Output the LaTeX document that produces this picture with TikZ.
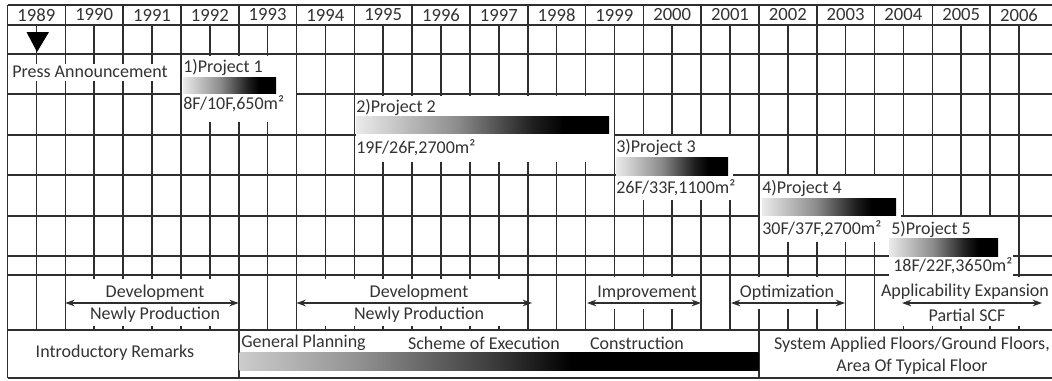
\documentclass[tikz,border=0pt]{standalone}
\usepackage{fontspec}
\setmainfont{Carlito}
\usetikzlibrary{arrows.meta}
\definecolor{chartink}{HTML}{333333}
\definecolor{chartline}{HTML}{2E2E2E}
\pgfdeclarehorizontalshading{barshade}{100bp}{color(0bp)=(black!8); color(25bp)=(black!8); color(45bp)=(black!45); color(60bp)=(black!88); color(66bp)=(black); color(100bp)=(black)}
\pgfdeclarehorizontalshading{bandshade}{100bp}{color(0bp)=(black!20); color(25bp)=(black!20); color(36bp)=(black!42); color(50bp)=(black!78); color(57bp)=(black); color(100bp)=(black)}
\tikzset{gridline/.style={draw=chartline, line width=1.2pt},
  blankbox/.style={fill=white},
  projbar/.style={shading=barshade},
  projlabel/.style={anchor=west, inner sep=0pt, text=chartink},
  phaselabel/.style={inner sep=0pt, text=chartink},
  phasearrow/.style={{Stealth[length=7pt,width=5pt]}-{Stealth[length=7pt,width=5pt]}, line width=1pt, chartline},
  yearlabel/.style={inner sep=0pt, text=chartink, font=\fontsize{14}{16}\selectfont},
  chart/.style={x=0.75pt, y=-0.75pt, font=\fontsize{13.5}{16.5}\selectfont}}

\begin{document}
\begin{tikzpicture}[chart]
  \useasboundingbox (0,0) rectangle (1052,380);
  \clip (0,0) rectangle (1052,380);
  % grid of half years
  \foreach \j in {1,...,35}
    \draw[gridline] ({7.5+28.9*\j},25) -- ({7.5+28.9*\j},330);
  \foreach \k in {1,...,17}
    \draw[gridline] ({7.5+57.8*\k},5) -- ({7.5+57.8*\k},25);
  \foreach \y in {5,25,54,94,135,175,216,256,275,330,378}
    \draw[gridline] (7.5,\y) -- (1060,\y);
  \draw[gridline] (7.5,5) -- (7.5,378);
  \foreach \yr [count=\k from 0] in {1989,...,2006}
    \node[yearlabel] (yr\yr) at ({36.4+57.8*\k},15) {\yr};

  \fill (26.5,32) -- (49,32) -- (37,52) -- cycle;
  \node[phaselabel, fill=white, inner sep=2pt] (press) at (90,72) {Press Announcement};

  % projects
  \fill[blankbox] (182,55.5) rectangle (295.5,122);
  \node[projlabel] (p1) at (183,67) {1)Project 1};
  \shade[projbar] (183,77) rectangle (276,93);
  \node[projlabel] (p1data) at (183,104) {8F/10F,650m²};

  \fill[blankbox] (355.5,95.5) rectangle (613.5,162);
  \node[projlabel] (p2) at (356,107) {2)Project 2};
  \shade[projbar] (356,116) rectangle (609,133);
  \node[projlabel] (p2data) at (356,148) {19F/26F,2700m²};

  \fill[blankbox] (615.5,136) rectangle (733,200);
  \node[projlabel] (p3) at (616,147) {3)Project 3};
  \shade[projbar] (616,157) rectangle (728,175);
  \node[projlabel] (p3data) at (616,188) {26F/33F,1100m²};

  \fill[blankbox] (760,176) rectangle (901,242);
  \node[projlabel] (p4) at (762,188) {4)Project 4};
  \shade[projbar] (762,198) rectangle (896,215);
  \node[projlabel] (p4data) at (762,229) {30F/37F,2700m²};

  \fill[blankbox] (889,217) rectangle (1013,279);
  \node[projlabel] (p5) at (891,229) {5)Project 5};
  \shade[projbar] (889,238) rectangle (998,256);
  \node[projlabel] (p5data) at (893,266) {18F/22F,3650m²};

  % phases
  \fill[blankbox] (66.2,279) rectangle (237.8,326);
  \fill[blankbox] (297.4,279) rectangle (526.8,326);
  \fill[blankbox] (586.4,276.5) rectangle (700.2,309);
  \fill[blankbox] (730.9,276.5) rectangle (844.7,309);
  \fill[blankbox] (875.4,276.5) rectangle (1060,325.5);

  \coordinate (dev1w) at (65.3,303);
  \coordinate (dev1e) at (238.7,303);
  \coordinate (dev2w) at (296.5,303);
  \coordinate (dev2e) at (532,303);
  \coordinate (impw) at (587,303);
  \coordinate (impe) at (701,303);
  \coordinate (optw) at (731,303);
  \coordinate (opte) at (845,303);
  \coordinate (appw) at (902,303);
  \coordinate (appe) at (1042,303);
  \draw[phasearrow] (dev1w) -- (dev1e);
  \draw[phasearrow] (dev2w) -- (dev2e);
  \draw[phasearrow] (impw) -- (impe);
  \draw[phasearrow] (optw) -- (opte);
  \draw[phasearrow] (appw) -- (appe);

  \node[phaselabel] (dev1) at (155,293) {Development};
  \node[phaselabel] (new1) at (155,315) {Newly Production};
  \node[phaselabel] (dev2) at (419,293) {Development};
  \node[phaselabel] (new2) at (419,315) {Newly Production};
  \node[phaselabel] (imp) at (647,293) {Improvement};
  \node[phaselabel] (opt) at (787,293) {Optimization};
  \node[phaselabel] (app) at (965,292) {Applicability Expansion};
  \node[phaselabel] (scf) at (967,315) {Partial SCF};

  % bottom band
  \draw[gridline] (238.7,330) -- (238.7,378);
  \draw[gridline] (758.9,330) -- (758.9,378);
  \node[phaselabel] (intro) at (115,353) {Introductory Remarks};
  \node[projlabel] (plan) at (241,343) {General Planning};
  \node[phaselabel] (scheme) at (484,343) {Scheme of Execution};
  \node[phaselabel] (constr) at (637,343) {Construction};
  \shade[shading=bandshade] (239.5,352) rectangle (758.3,370);
  \node[phaselabel, align=center] (system) at (912,356) {System Applied Floors/Ground Floors,\\Area Of Typical Floor};
\end{tikzpicture}
\end{document}
